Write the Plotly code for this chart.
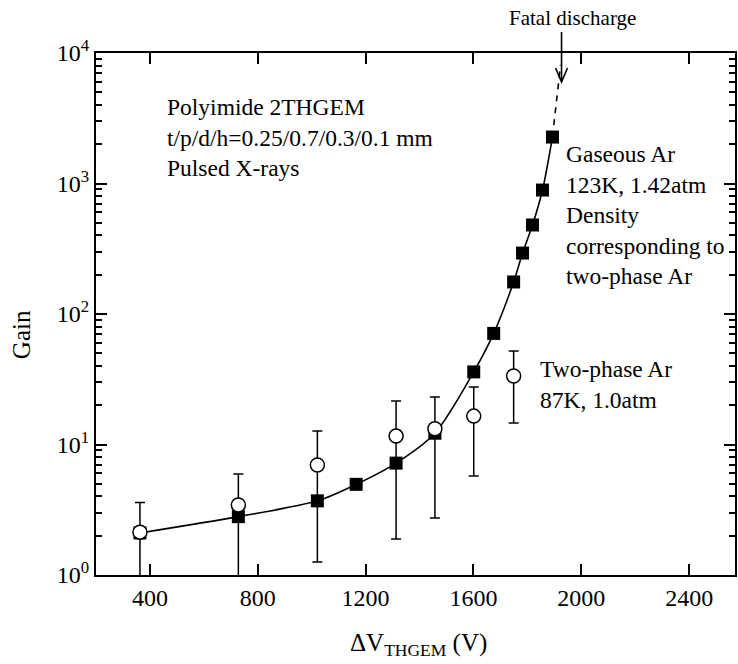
import plotly.graph_objects as go

# Gaseous Ar (123K, 1.42 atm) - filled squares
gas_v = [363, 728, 1021, 1165, 1313, 1457, 1601, 1675, 1749, 1782, 1819, 1856, 1893]
gas_gain = [2.1, 2.8, 3.7, 4.95, 7.2, 12.2, 36, 71, 176, 293, 481, 891, 2270]

# Extrapolation to fatal discharge (dashed)
extrap_v = [1893, 1923]
extrap_gain = [2270, 8100]

# Two-phase Ar (87K, 1.0 atm) - open circles with error bars
two_v = [363, 728, 1021, 1313, 1457, 1601, 1749]
two_gain = [2.13, 3.44, 6.97, 11.6, 13.2, 16.5, 33.5]
two_hi = [3.6, 5.94, 12.7, 21.5, 23.1, 27.6, 52]
two_lo = [0.5, 0.5, 1.26, 1.89, 2.73, 5.74, 14.6]

x_ticks = [400, 800, 1200, 1600, 2000, 2400]
y_tickvals = [1, 10, 100, 1000, 10000]
y_ticktext = ["10<sup>0</sup>", "10<sup>1</sup>", "10<sup>2</sup>", "10<sup>3</sup>", "10<sup>4</sup>"]

FONT = "Liberation Serif"

fig = go.Figure()

fig.add_trace(go.Scatter(x=gas_v, y=gas_gain, mode="lines",
                         line=dict(color="black", width=1.6, shape="spline", smoothing=0.8),
                         showlegend=False, hoverinfo="skip"))
fig.add_trace(go.Scatter(x=extrap_v, y=extrap_gain, mode="lines",
                         line=dict(color="black", width=1.6, dash="6px,6px"),
                         showlegend=False, hoverinfo="skip"))
fig.add_trace(go.Scatter(x=gas_v, y=gas_gain, mode="markers",
                         marker=dict(symbol="square", size=13, color="black"),
                         showlegend=False))
fig.add_trace(go.Scatter(
    x=two_v, y=two_gain, mode="markers",
    marker=dict(symbol="circle", size=14, color="white", line=dict(color="black", width=1.5)),
    error_y=dict(type="data", symmetric=False,
                 array=[h - g for h, g in zip(two_hi, two_gain)],
                 arrayminus=[g - l for g, l in zip(two_gain, two_lo)],
                 color="black", thickness=1.5, width=5),
    showlegend=False))

axis_common = dict(showline=True, linecolor="black", linewidth=2, mirror="ticks",
                   ticks="inside", ticklen=11, tickwidth=1.8, tickcolor="black",
                   showgrid=False, zeroline=False,
                   tickfont=dict(family=FONT, size=24, color="black"))

fig.update_xaxes(range=[200, 2570], tickvals=x_ticks, **axis_common)
fig.update_yaxes(type="log", range=[0, 4], tickvals=y_tickvals, ticktext=y_ticktext,
                 minor=dict(ticks="inside", ticklen=6, tickwidth=1.5, tickcolor="black", dtick="D1"),
                 **axis_common)

anns = [
    dict(x=455, y=3.349, xref="x", yref="y", xanchor="left", yanchor="middle", align="left",
         text="Polyimide 2THGEM<br>t/p/d/h=0.25/0.7/0.3/0.1 mm<br>Pulsed X-rays", font_size=23.5),
    dict(x=1937, y=2.762, xref="x", yref="y", xanchor="left", yanchor="middle", align="left",
         text="Gaseous Ar<br>123K, 1.42atm<br>Density<br>corresponding to<br>two-phase Ar", font_size=23.5),
    dict(x=1841, y=1.456, xref="x", yref="y", xanchor="left", yanchor="middle", align="left",
         text="Two-phase Ar<br>87K, 1.0atm", font_size=23.5),
    dict(x=0.746, y=1.067, xref="paper", yref="paper", xanchor="center", yanchor="middle",
         text="Fatal discharge", font_size=21),
    dict(x=-0.1154, y=0.46, xref="paper", yref="paper", xanchor="center", yanchor="middle",
         text="Gain", textangle=-90, font_size=25),
    dict(x=0.504, y=-0.134, xref="paper", yref="paper", xanchor="center", yanchor="middle",
         text="ΔV<sub>THGEM</sub> (V)", font_size=25),
]
for a in anns:
    a["showarrow"] = False
    a["font"] = dict(family=FONT, size=a.pop("font_size"), color="black")
    fig.add_annotation(**a)

# Arrow pointing to fatal discharge (paper coordinates)
def px_to_paper(px, py):
    return (px - 96) / 641.0, (575 - py) / 522.0

x0, y0 = px_to_paper(563, 32)
x1, y1 = px_to_paper(563, 82)
xl, yl = px_to_paper(557, 68)
xr, yr = px_to_paper(569, 68)
fig.add_shape(type="path", xref="paper", yref="paper",
              path=f"M {x0} {y0} L {x1} {y1} M {xl} {yl} L {x1} {y1} L {xr} {yr}",
              line=dict(color="black", width=1.6))

fig.update_layout(width=738, height=664, margin=dict(l=96, r=1, t=53, b=89),
                  plot_bgcolor="white", paper_bgcolor="white",
                  font=dict(family=FONT, color="black"))

fig.write_html("out.html")
